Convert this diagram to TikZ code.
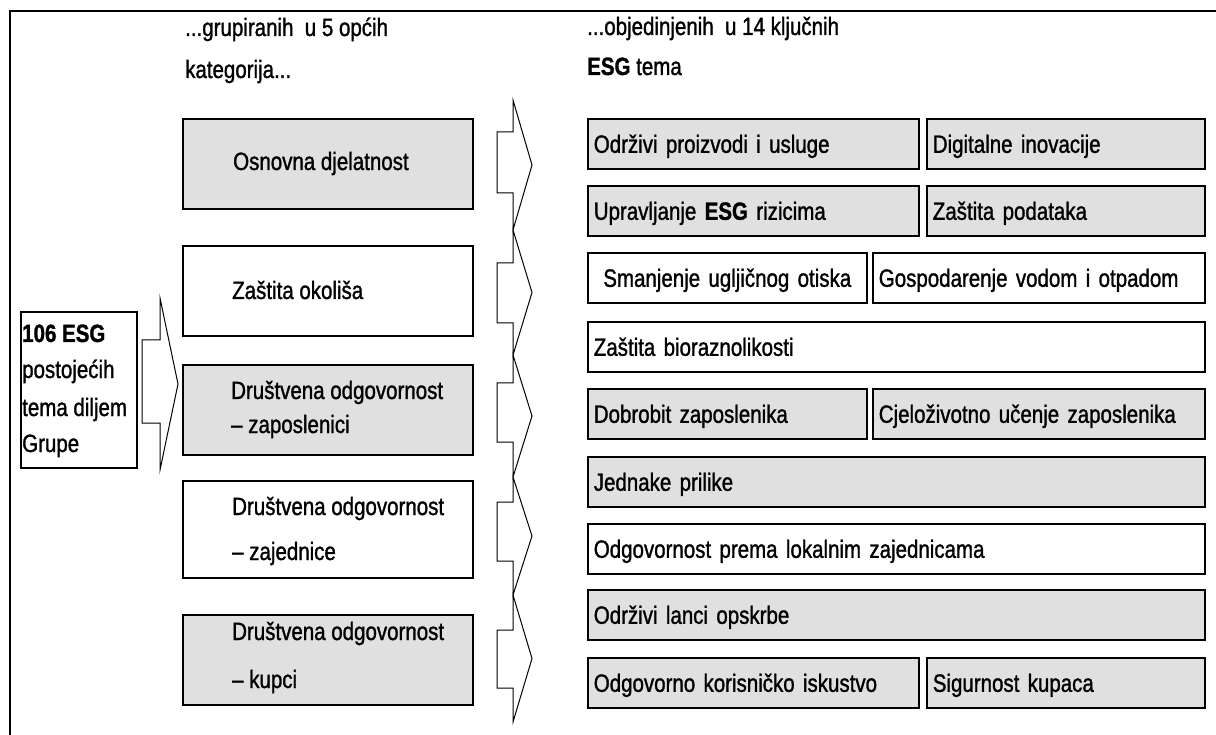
\documentclass[tikz,border=0pt]{standalone}
\usepackage{fontspec}
\setmainfont{Liberation Sans}[FakeStretch=0.82, FakeBold=1.2]
\definecolor{boxgray}{RGB}{224,224,224}
\begin{document}
\begin{tikzpicture}[x=1pt,y=-1pt,
  every node/.style={font=\fontsize{25}{30}\selectfont},
  txt/.style={anchor=base west, inner sep=0pt},
  mbox/.style={draw, line width=1.6pt, anchor=north west, minimum width=290pt, minimum height=90pt, inner sep=0pt},
  rbox/.style={draw, line width=1.6pt, anchor=north west, minimum height=50pt, inner xsep=6pt, inner ysep=2pt, text height=18pt, text depth=0pt, align=left},
  gbox/.style={fill=boxgray},
  chev/.style={draw, line width=1pt, line join=miter}]
\useasboundingbox (0,0) rectangle (1216,735);
% frame
\draw[line width=2pt] (10,735) -- (10,11) -- (1216,11);
% headers
\node[txt] (h1a) at (185,36) {...grupiranih\ \ u 5 općih};
\node[txt] (h1b) at (185,78) {kategorija...};
\node[txt] (h2a) at (587,35) {...objedinjenih\ \ u 14 ključnih};
\node[txt] (h2b) at (587,75) {\textbf{ESG} tema};
% left box
\node[draw, line width=1.6pt, anchor=north west, minimum width=116pt, minimum height=156pt] (src) at (20,311) {};
\node[txt] (s1) at (22,342) {\textbf{106 ESG}};
\node[txt] (s2) at (22,378) {postojećih};
\node[txt] (s3) at (22,416) {tema diljem};
\node[txt] (s4) at (22,452) {Grupe};
% left arrow
\draw[chev] (142,340) -- (160,340) -- (160,298) -- (178,384) -- (160,470) -- (160,423) -- (142,423) -- cycle;
% middle boxes
\node[mbox, gbox] (m1) at (182,118) {};
\node[txt] (m1t) at (233,170) {Osnovna djelatnost};
\node[mbox] (m2) at (182,245) {};
\node[txt] (m2t) at (232,299) {Zaštita\ okoliša};
\node[mbox, gbox] (m3) at (182,364) {};
\node[txt] (m3a) at (231,399) {Društvena odgovornost};
\node[txt] (m3b) at (231,433) {– zaposlenici};
\node[mbox, minimum height=97pt] (m4) at (182,480) {};
\node[txt] (m4a) at (232,515) {Društvena odgovornost};
\node[txt] (m4b) at (232,560) {– zajednice};
\node[mbox, gbox] (m5) at (182,614) {};
\node[txt] (m5a) at (232,640) {Društvena odgovornost};
\node[txt] (m5b) at (232,688) {– kupci};
% right arrows
\foreach \a/\st/\sb/\b in {100/132/193/230, 230/263/323/355, 355/383/442/477, 477/502/561/595, 595/630/688/722}{
  \draw[chev] (497,\st) -- (513,\st) -- (513,\a) -- (532,{(\a+\b)/2}) -- (513,\b) -- (513,\sb) -- (497,\sb) -- cycle;
}
% right boxes
\node[rbox, gbox, text width=319pt] (r1a) at (587,118) {Održivi proizvodi i usluge};
\node[rbox, gbox, text width=266pt] (r1b) at (926,118) {Digitalne\ inovacije};
\node[rbox, gbox, text width=319pt] (r2a) at (587,185) {Upravljanje\ \textbf{ESG} rizicima};
\node[rbox, gbox, text width=266pt] (r2b) at (926,185) {Zaštita\ podataka};
\node[rbox, text width=267pt, align=center] (r3a) at (587,252) {Smanjenje\ ugljičnog\ otiska};
\node[rbox, text width=320pt] (r3b) at (872,252) {Gospodarenje vodom i otpadom};
\node[rbox, text width=605pt] (r4) at (587,321) {Zaštita\ bioraznolikosti};
\node[rbox, gbox, text width=267pt] (r5a) at (587,388) {Dobrobit\ zaposlenika};
\node[rbox, gbox, text width=320pt] (r5b) at (872,388) {Cjeloživotno\ učenje zaposlenika};
\node[rbox, gbox, text width=605pt] (r6) at (587,456) {Jednake prilike};
\node[rbox, text width=605pt] (r7) at (587,523) {Odgovornost prema lokalnim zajednicama};
\node[rbox, gbox, text width=605pt] (r8) at (587,589) {Održivi lanci\ opskrbe};
\node[rbox, gbox, text width=319pt] (r9a) at (587,657) {Odgovorno korisničko\ iskustvo};
\node[rbox, gbox, text width=266pt] (r9b) at (926,657) {Sigurnost kupaca};
\end{tikzpicture}
\end{document}
